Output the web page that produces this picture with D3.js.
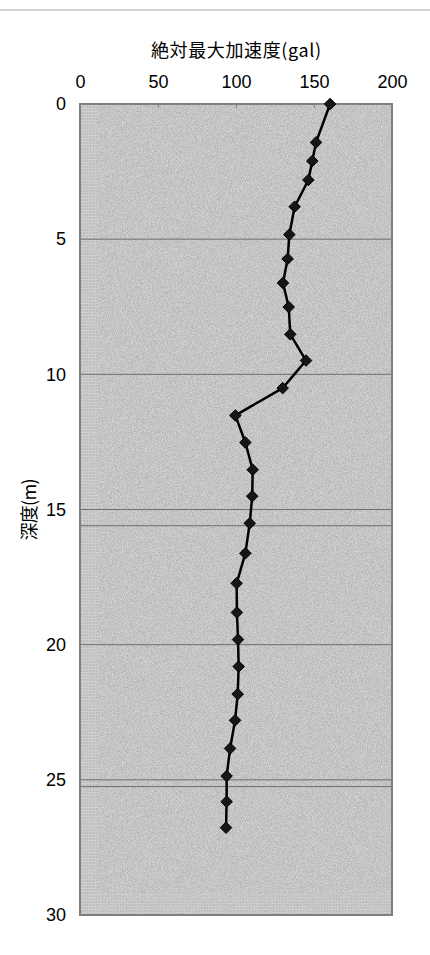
<!DOCTYPE html>
<html>
<head>
<meta charset="utf-8">
<script src="https://cdn.jsdelivr.net/npm/d3@7"></script>
<style>
  body { margin: 0; background: #fff; }
  svg { display: block; }
</style>
</head>
<body>
<svg id="chart" width="430" height="955"></svg>
<script>
// depth (m) and peak absolute acceleration (gal)
const depths = [0, 1.42, 2.11, 2.81, 3.8, 4.83, 5.73, 6.62, 7.51, 8.52, 9.49, 10.51, 11.52, 12.52,
  13.53, 14.51, 15.51, 16.62, 17.73, 18.81, 19.81, 20.81, 21.83, 22.8, 23.84, 24.86, 25.81, 26.77];
const accel = [160.3, 151.3, 148.9, 146.4, 137.6, 134.2, 133.1, 130.1, 133.8, 134.8, 144.9, 129.9, 99.6, 106,
  110.7, 110.4, 108.8, 106, 100.4, 100.6, 101.3, 101.7, 101.1, 99.4, 96.2, 94, 94, 93.6];

const xTicks = [0, 50, 100, 150, 200];
const yTicks = [0, 5, 10, 15, 20, 25, 30];
const gridDepths = [5, 10, 15, 20, 25];
const layerBounds = [15.6, 25.25];

const svg = d3.select('#chart');

// separator line at top of page
svg.append('line')
  .attr('x1', 0).attr('x2', 430).attr('y1', 10).attr('y2', 10)
  .attr('stroke', '#c4c4c4').attr('stroke-width', 1.5);

let x = d3.scaleLinear().domain([0, 200]).range([80, 392]);
let y = d3.scaleLinear().domain([0, 30]).range([104, 915]);

// noisy grey fill, like the old spreadsheet texture
const defs = svg.append('defs');
const f = defs.append('filter').attr('id', 'noise')
  .attr('color-interpolation-filters', 'sRGB')
  .attr('x', 0).attr('y', 0).attr('width', '100%').attr('height', '100%');
f.append('feTurbulence').attr('type', 'fractalNoise').attr('baseFrequency', 1.2)
  .attr('numOctaves', 1).attr('seed', 3).attr('result', 't');
f.append('feColorMatrix').attr('in', 't').attr('type', 'matrix')
  .attr('values', '0.3 0 0 0 0.62  0.3 0 0 0 0.62  0.3 0 0 0 0.62  0 0 0 0 1')
  .attr('result', 'n');
f.append('feComposite').attr('in', 'n').attr('in2', 'SourceGraphic').attr('operator', 'in');

const vpat = defs.append('pattern').attr('id', 'vlines')
  .attr('width', 3).attr('height', 3).attr('patternUnits', 'userSpaceOnUse');
vpat.append('rect').attr('width', 3).attr('height', 3).attr('fill', '#c8c8c8');
vpat.append('rect').attr('width', 1).attr('height', 3).attr('fill', '#b4b4b4');
vpat.append('rect').attr('width', 3).attr('height', 1).attr('fill', '#d8d8d8');

const [x0, x1] = x.range();
const [y0, y1] = y.range();

svg.append('rect')
  .attr('x', x0).attr('y', y0).attr('width', x1 - x0).attr('height', y1 - y0)
  .attr('fill', '#c3c3c3').attr('filter', 'url(#noise)');

// faint banding along left and bottom edges
svg.append('rect').attr('x', x0).attr('y', y0).attr('width', 18).attr('height', y1 - y0)
  .attr('fill', 'url(#vlines)').attr('opacity', 0.5);
svg.append('rect').attr('x', x0 + 18).attr('y', y1 - 22).attr('width', x1 - x0 - 18).attr('height', 22)
  .attr('fill', 'url(#vlines)').attr('opacity', 0.4);

// horizontal grid lines
svg.append('g').selectAll('line')
  .data(gridDepths.concat(layerBounds))
  .join('line')
  .attr('x1', x0).attr('x2', x1)
  .attr('y1', d => y(d)).attr('y2', d => y(d))
  .attr('stroke', '#6e6e6e').attr('stroke-width', 1);

// plot frame
svg.append('rect')
  .attr('x', x0).attr('y', y0).attr('width', x1 - x0).attr('height', y1 - y0)
  .attr('fill', 'none').attr('stroke', '#808080').attr('stroke-width', 2);

// axes
const xAxis = svg.append('g').attr('transform', `translate(0,${y0})`)
  .call(d3.axisTop(x).tickValues(xTicks).tickSizeInner(-4).tickSizeOuter(0).tickPadding(16));
const yAxis = svg.append('g').attr('transform', `translate(${x0},0)`)
  .call(d3.axisLeft(y).tickValues(yTicks).tickSizeInner(0).tickSizeOuter(0).tickPadding(14));

[xAxis, yAxis].forEach(g => {
  g.select('.domain').remove();
  g.selectAll('.tick line').attr('stroke', '#808080');
  g.selectAll('text')
    .attr('fill', '#000')
    .style('font-family', '"Liberation Sans", Arial, sans-serif')
    .style('font-size', '18px');
});
xAxis.selectAll('.tick').filter(d => d === 0 || d === 200).select('line').remove();

// titles
svg.append('text')
  .attr('x', (x0 + x1) / 2).attr('y', 57)
  .attr('text-anchor', 'middle')
  .attr('textLength', 170)
  .style('font-family', '"Noto Sans CJK JP", sans-serif')
  .style('font-size', '18px')
  .text('絶対最大加速度(gal)');

svg.append('text')
  .attr('transform', `translate(36,${(y0 + y1) / 2}) rotate(-90)`)
  .attr('text-anchor', 'middle')
  .attr('textLength', 62)
  .style('font-family', '"Noto Sans CJK JP", sans-serif')
  .style('font-size', '18px')
  .text('深度(m)');

// profile line
const pts = depths.map((d, i) => [accel[i], d]);
const line = d3.line().x(d => x(d[0])).y(d => y(d[1]));

svg.append('path')
  .attr('d', line(pts))
  .attr('fill', 'none')
  .attr('stroke', '#000')
  .attr('stroke-width', 2.5)
  .attr('stroke-linejoin', 'round');

const diamond = d3.symbol().type(d3.symbolDiamond2).size(85);
svg.append('g').selectAll('path')
  .data(pts)
  .join('path')
  .attr('transform', d => `translate(${x(d[0])},${y(d[1])})`)
  .attr('d', diamond)
  .attr('fill', '#161616')
  .attr('stroke', '#000')
  .attr('stroke-width', 1);
</script>
</body>
</html>
